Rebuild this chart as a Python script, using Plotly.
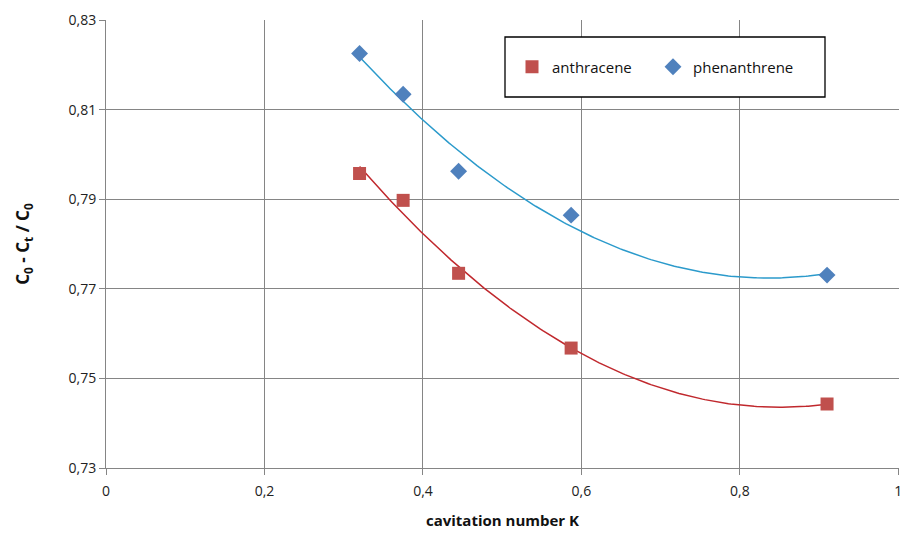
import numpy as np
import plotly.graph_objects as go

# Data
k_values = [0.32, 0.375, 0.445, 0.587, 0.91]
anthracene = [0.7958, 0.7898, 0.7735, 0.7568, 0.7443]
phenanthrene = [0.8226, 0.8135, 0.7963, 0.7865, 0.7731]

x_tick_vals = [0, 0.2, 0.4, 0.6, 0.8, 1]
x_tick_text = ["0", "0,2", "0,4", "0,6", "0,8", "1"]
y_tick_vals = [0.73, 0.75, 0.77, 0.79, 0.81, 0.83]
y_tick_text = ["0,73", "0,75", "0,77", "0,79", "0,81", "0,83"]

FONT = "Open Sans, Liberation Sans, sans-serif"

def trend(xs, ys):
    c = np.polyfit(xs, ys, 2)
    xx = np.linspace(min(xs), max(xs), 200)
    return xx, np.polyval(c, xx)

fig = go.Figure()

xa, ya = trend(k_values, anthracene)
xp, yp = trend(k_values, phenanthrene)

fig.add_trace(go.Scatter(x=xa, y=ya, mode="lines", line=dict(color="#c0282d", width=1.5),
                         showlegend=False, hoverinfo="skip"))
fig.add_trace(go.Scatter(x=xp, y=yp, mode="lines", line=dict(color="#2b9acb", width=1.5),
                         showlegend=False, hoverinfo="skip"))

fig.add_trace(go.Scatter(x=k_values, y=anthracene, mode="markers", name="anthracene",
                         marker=dict(symbol="square", size=13, color="#c0504d",
                                     line=dict(width=0))))
fig.add_trace(go.Scatter(x=k_values, y=phenanthrene, mode="markers", name="phenanthrene",
                         marker=dict(symbol="diamond", size=13, color="#4f81bd",
                                     line=dict(width=0))))

L, R, T, B = 106, 4, 20, 71
W, H = 903, 539
pw, ph = W - L - R, H - T - B

def px2x(p):
    return (p - L) / pw

def py2y(p):
    return (H - B - p) / ph

fig.add_shape(type="rect", xref="paper", yref="paper",
              x0=px2x(505), x1=px2x(825), y0=py2y(97), y1=py2y(37),
              line=dict(color="black", width=1.3), fillcolor="white", layer="above")

fig.update_layout(
    width=W, height=H,
    margin=dict(l=L, r=R, t=T, b=B, autoexpand=False),
    paper_bgcolor="white", plot_bgcolor="white",
    font=dict(family=FONT, size=14, color="#222"),
    showlegend=True,
    legend=dict(orientation="h", x=px2x(512), y=py2y(67), xanchor="left", yanchor="middle",
                bgcolor="rgba(0,0,0,0)", borderwidth=0, font=dict(size=15, color="#111"),
                entrywidth=96, itemwidth=30),
    xaxis=dict(range=[0, 1.0008], tickvals=x_tick_vals, ticktext=x_tick_text,
               showgrid=True, gridcolor="#858585", gridwidth=1,
               showline=True, linecolor="#858585", linewidth=1,
               ticks="outside", ticklen=6, tickcolor="#858585",
               zeroline=False, ticklabelstandoff=4, automargin=False,
               title=dict(text="<b>cavitation number K</b>", font=dict(size=15, color="#111"), standoff=16)),
    yaxis=dict(range=[0.73, 0.8301], tickvals=y_tick_vals, ticktext=y_tick_text,
               showgrid=True, gridcolor="#858585", gridwidth=1,
               showline=True, linecolor="#858585", linewidth=1,
               ticks="outside", ticklen=6, tickcolor="#858585",
               zeroline=False, automargin=False,
               title=dict(text="<b>C<sub>0</sub> - C<sub>t</sub> / C<sub>0</sub></b>",
                          font=dict(size=17, color="#111"), standoff=34)),
)

fig.write_html("out.html")
